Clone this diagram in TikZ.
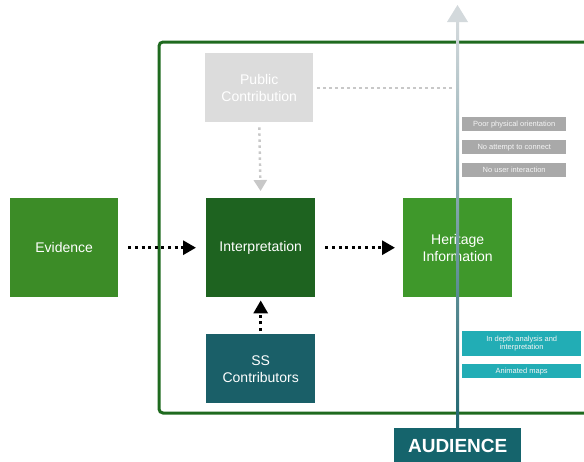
\documentclass[tikz,border=0pt]{standalone}
\usepackage{fontspec}
\setmainfont{Liberation Sans}
\usetikzlibrary{arrows.meta,positioning,calc}
\definecolor{frameG}{HTML}{1F6A1F}
\definecolor{midG}{HTML}{3C8C27}
\definecolor{heriG}{HTML}{3F982B}
\definecolor{darkG}{HTML}{1E6320}
\definecolor{tealD}{HTML}{1A5F68}
\definecolor{audT}{HTML}{15646C}
\definecolor{pubGray}{HTML}{DCDCDC}
\definecolor{labGray}{HTML}{A9A9A9}
\definecolor{labTeal}{HTML}{22ADB5}
\definecolor{dotGray}{HTML}{C8C8C8}
\definecolor{lineTop}{HTML}{D3D9DC}
\definecolor{lineBot}{HTML}{1F6670}
\tikzset{
  x=1pt,y=-1pt,
  bigbox/.style={anchor=north west,inner sep=0pt,text=white,font=\fontsize{14}{17}\selectfont,align=center},
  tag/.style={anchor=north west,inner sep=0pt,text=white!92!gray,font=\fontsize{7.5}{8.5}\selectfont,align=center},
  blackdots/.style={draw=black,line width=3pt,dash pattern=on 3pt off 3.6pt,-{Triangle[length=13pt,width=14pt]}},
  graydots/.style={draw=dotGray,line width=2.4pt,dash pattern=on 2.4pt off 3.6pt},
}
\begin{document}
\begin{tikzpicture}
\useasboundingbox (0,0) rectangle (584,461);
\fill[white] (0,0) rectangle (584,461);
% frame
\draw[frameG,line width=3pt,rounded corners=4pt] (159,42) rectangle (620,413);
% boxes
\node[bigbox,fill=midG,minimum width=108pt,minimum height=99pt] (ev) at (10,198) {Evidence};
\node[bigbox,fill=darkG,minimum width=109pt,minimum height=99pt] (int) at (206,198) {Interpretation};
\node[bigbox,fill=heriG,minimum width=109pt,minimum height=99pt] (her) at (403,198) {Heritage\\Information};
\node[bigbox,fill=pubGray,minimum width=108pt,minimum height=69pt] (pub) at (205,53) {Public\\Contribution};
\node[bigbox,fill=tealD,minimum width=109pt,minimum height=69pt] (ss) at (206,334) {SS\\Contributors};
\node[anchor=north west,inner sep=0pt,fill=audT,text=white,minimum width=127pt,minimum height=40pt,font=\fontsize{19}{21}\selectfont\bfseries] (aud) at (394,428) {\raisebox{4pt}{AUDIENCE}};
% vertical audience line
\coordinate (top) at (457.5,22);
\shade[top color=lineTop,bottom color=lineBot] ([xshift=-1.5pt]top) rectangle ([xshift=1.5pt]aud.north);
\fill[lineTop] ([xshift=-10.5pt]top) -- ([xshift=10.5pt]top) -- ([yshift=17pt]top) -- cycle;
% tags
\node[tag,fill=labGray,minimum width=104pt,minimum height=14pt] (t1) at (462,117) {Poor physical orientation};
\node[tag,fill=labGray,minimum width=104pt,minimum height=14pt] (t2) at (462,140) {No attempt to connect};
\node[tag,fill=labGray,minimum width=104pt,minimum height=14pt] (t3) at (462,163) {No user interaction};
\node[tag,fill=labTeal,minimum width=119pt,minimum height=25pt] (t4) at (462,331) {In depth analysis and\\interpretation};
\node[tag,fill=labTeal,minimum width=119pt,minimum height=14pt] (t5) at (462,364) {Animated maps};
% connectors
\draw[blackdots,shorten <=10pt,shorten >=10pt] (ev.east) -- (int.west);
\draw[blackdots,shorten <=10pt,shorten >=8pt] (int.east) -- (her.west);
\draw[blackdots,shorten <=3pt,shorten >=3pt] (ss.north) -- (int.south);
\draw[graydots,-{Triangle[length=11pt,width=13pt]},shorten <=5pt,shorten >=7pt] (pub.south) -- (int.north);
\coordinate (pr) at (455,88);
\draw[graydots] (pub.east |- pr) ++(4,0) -- (pr);
\end{tikzpicture}
\end{document}
